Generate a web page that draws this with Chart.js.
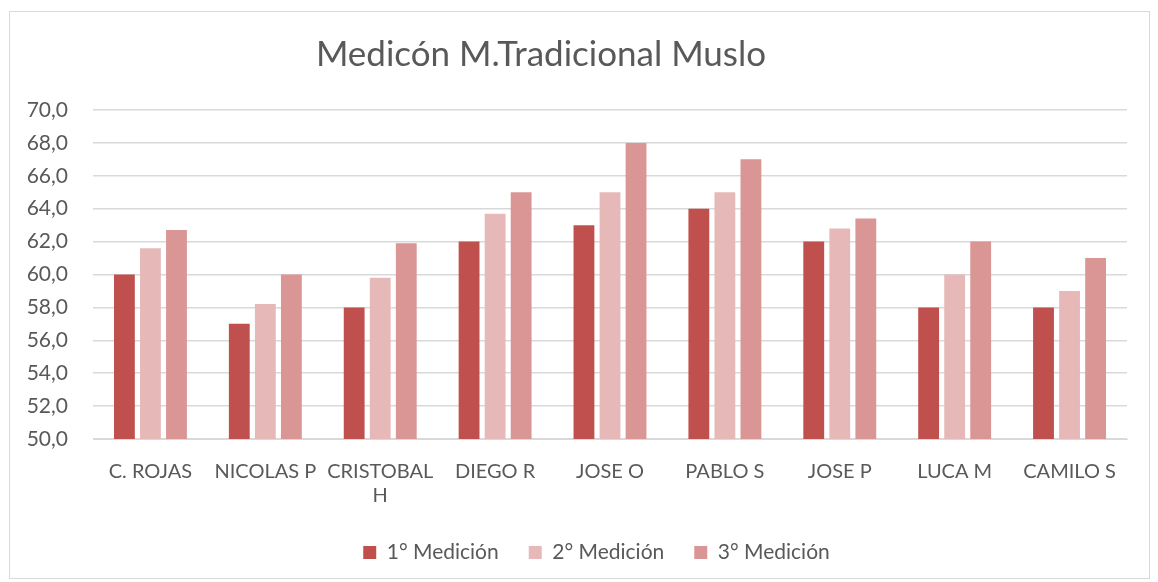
<!DOCTYPE html>
<html>
<head>
<meta charset="utf-8">
<script src="https://cdn.jsdelivr.net/npm/chart.js@4.4.1/dist/chart.umd.min.js"></script>
<style>
  html, body { margin: 0; padding: 0; background: #fff; }
  .frame {
    position: absolute;
    left: 9px; top: 11px;
    width: 1141px; height: 568px;
    border: 1px solid #d9d9d9;
    box-sizing: border-box;
  }
  canvas { display: block; }
</style>
</head>
<body>
<div class="frame">
  <canvas id="muslo" width="1139" height="566"></canvas>
</div>
<script>
// medición del muslo por deportista, tres tomas
const chartTitle = 'Medicón M.Tradicional Muslo';
const players = ['C. ROJAS', 'NICOLAS P', ['CRISTOBAL', 'H'], 'DIEGO R', 'JOSE O', 'PABLO S', 'JOSE P', 'LUCA M', 'CAMILO S'];
const seriesNames = ['1° Medición', '2° Medición', '3° Medición'];
const medicion1 = [60.0, 57.0, 58.0, 62.0, 63.0, 64.0, 62.0, 58.0, 58.0];
const medicion2 = [61.6, 58.2, 59.8, 63.7, 65.0, 65.0, 62.8, 60.0, 59.0];
const medicion3 = [62.7, 60.0, 61.9, 65.0, 68.0, 67.0, 63.4, 62.0, 61.0];
const yTicks = [50, 52, 54, 56, 58, 60, 62, 64, 66, 68, 70];

const colors = ['#C0504D', '#E6B9B8', '#D99694'];
const textColor = '#595959';
const gridColor = '#d9d9d9';
const fontFamily = 'Lato, "Open Sans", sans-serif';

// título dibujado a mano para poder colocarlo fuera del centro
const titlePlugin = {
  id: 'fixedTitle',
  afterDraw(chart) {
    const ctx = chart.ctx;
    ctx.save();
    ctx.fillStyle = textColor;
    ctx.font = '35px ' + fontFamily;
    ctx.textAlign = 'center';
    ctx.textBaseline = 'middle';
    ctx.fillText(chartTitle, 531, 43);
    ctx.restore();
  }
};

// la leyenda va algo corrida a la derecha
const legendShift = {
  id: 'legendShift',
  afterLayout(chart) {
    if (!chart.legend) return;
    chart.legend.left += 28;
    chart.legend.right += 28;
  }
};

new Chart(document.getElementById('muslo'), {
  type: 'bar',
  data: {
    labels: players,
    datasets: [medicion1, medicion2, medicion3].map((d, i) => ({
      label: seriesNames[i],
      data: d,
      backgroundColor: colors[i],
      categoryPercentage: 0.68,
      barPercentage: 0.8
    }))
  },
  options: {
    responsive: false,
    animation: false,
    layout: { padding: { left: 0, right: 22, top: 98, bottom: 5 } },
    plugins: {
      title: { display: false },
      tooltip: { enabled: false },
      legend: {
        position: 'bottom',
        labels: {
          color: textColor,
          font: { family: fontFamily, size: 21 },
          boxWidth: 13,
          boxHeight: 13,
          padding: 30
        }
      }
    },
    scales: {
      x: {
        grid: { display: false },
        border: { color: gridColor },
        ticks: {
          color: textColor,
          font: { family: fontFamily, size: 20 },
          padding: 13,
          maxRotation: 0,
          autoSkip: false
        },
        afterFit(scale) { scale.height = 73; }
      },
      y: {
        min: 50,
        max: 70,
        afterBuildTicks(scale) { scale.ticks = yTicks.map(v => ({ value: v })); },
        grid: { color: gridColor, lineWidth: 1.5, drawTicks: false },
        border: { display: false },
        ticks: {
          color: textColor,
          font: { family: fontFamily, size: 21 },
          padding: 25,
          callback: v => v.toFixed(1).replace('.', ',')
        },
        afterFit(scale) { scale.width = 83; }
      }
    }
  },
  plugins: [titlePlugin, legendShift]
});
</script>
</body>
</html>
